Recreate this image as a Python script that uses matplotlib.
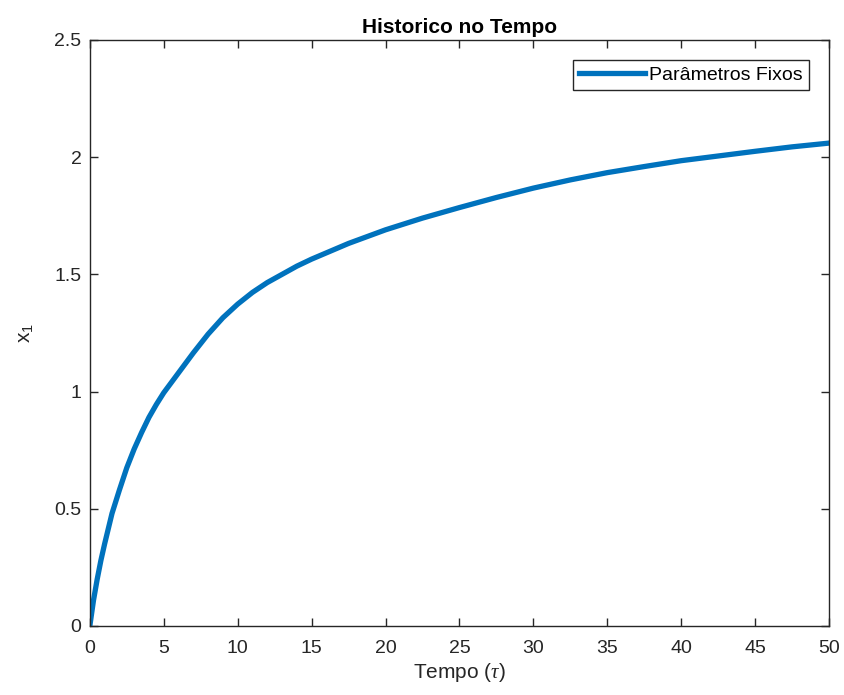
import numpy as np
from matplotlib import pyplot as plt

plt.rcParams['font.family'] = ['Liberation Sans', 'DejaVu Sans']
plt.rcParams['mathtext.fontset'] = 'custom'
plt.rcParams['mathtext.rm'] = 'Liberation Sans'
plt.rcParams['mathtext.it'] = 'Liberation Serif:italic'

# tempo (tau) e x1
t = [0, 0.25, 0.5, 0.75, 1, 1.5, 2, 2.5, 3, 3.5, 4, 4.5, 5, 6, 7, 8, 9, 10,
     11, 12, 13, 14, 15, 17.5, 20, 22.5, 25, 27.5, 30, 32.5, 35, 37.5, 40,
     42.5, 45, 47.5, 50]
x1 = [0, 0.11, 0.2, 0.28, 0.35, 0.48, 0.58, 0.675, 0.755, 0.825, 0.89, 0.945,
      0.995, 1.08, 1.165, 1.245, 1.315, 1.373, 1.423, 1.465, 1.50, 1.535, 1.565,
      1.632, 1.69, 1.74, 1.785, 1.828, 1.868, 1.903, 1.934, 1.96, 1.985, 2.005,
      2.025, 2.044, 2.06]

xticks = np.arange(0, 51, 5)
yticks = [0, 0.5, 1, 1.5, 2, 2.5]
ytick_labels = ['0', '0.5', '1', '1.5', '2', '2.5']

dark = '#262626'

fig = plt.figure(figsize=(8.45, 6.95), dpi=100)
ax = fig.add_axes([0.1063, 0.0993, 0.8748, 0.8432])

ax.plot(t, x1, color='#0072BD', linewidth=3.8, label='Parâmetros Fixos',
        solid_joinstyle='round')

ax.set_xlim(0, 50)
ax.set_ylim(0, 2.5)
ax.set_xticks(xticks)
ax.set_yticks(yticks)
ax.set_yticklabels(ytick_labels)
ax.tick_params(direction='in', top=True, right=True, length=6, width=1,
               labelsize=14, colors=dark)
ax.tick_params(axis='x', pad=10)
ax.tick_params(axis='y', pad=6)
for s in ax.spines.values():
    s.set_color(dark)
    s.set_linewidth(1)

ax.set_title('Historico no Tempo', fontsize=15, fontweight='bold', color='black', pad=5)
ax.set_xlabel(r'Tempo ($\tau$)', fontsize=15, color=dark, labelpad=3)
ax.set_ylabel(r'x$_1$', fontsize=15, color=dark, labelpad=14)

leg = ax.legend(loc='upper right', fontsize=14, fancybox=False, framealpha=1,
                edgecolor=dark, handlelength=3.4, borderaxespad=1.05,
                handletextpad=0.2, borderpad=0.3)
leg.get_frame().set_linewidth(1)

fig.savefig('out.png', dpi=100)
